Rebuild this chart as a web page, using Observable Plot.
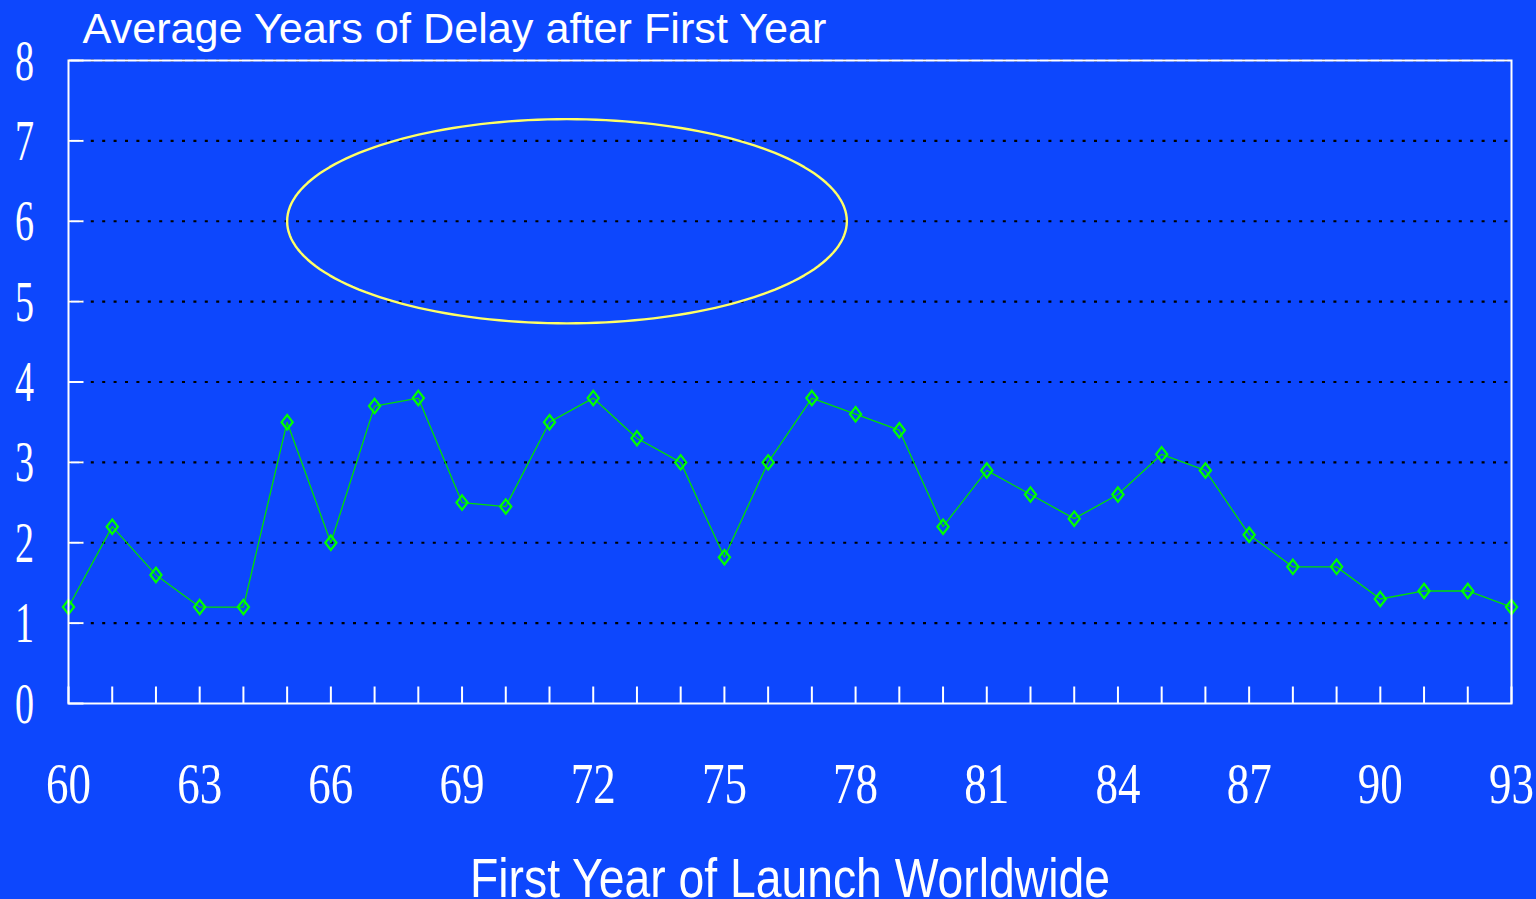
<!DOCTYPE html>
<html>
<head>
<meta charset="utf-8">
<script src="https://cdn.jsdelivr.net/npm/d3@7"></script>
<script src="https://cdn.jsdelivr.net/npm/@observablehq/plot@0.6"></script>
<style>
  html, body { margin: 0; padding: 0; background: #0d47fd; overflow: hidden; }
</style>
</head>
<body>
<div id="chart"></div>
<script>
// ---- data ----
const years = d3.range(60, 94);
const delay = [1.2, 2.2, 1.6, 1.2, 1.2, 3.5, 2.0, 3.7, 3.8, 2.5,
               2.45, 3.5, 3.8, 3.3, 3.0, 1.82, 3.0, 3.8, 3.6, 3.4,
               2.2, 2.9, 2.6, 2.3, 2.6, 3.1, 2.9, 2.1, 1.7, 1.7,
               1.3, 1.4, 1.4, 1.2];
const xTickLabels = [60, 63, 66, 69, 72, 75, 78, 81, 84, 87, 90, 93];
const yTickLabels = [0, 1, 2, 3, 4, 5, 6, 7, 8];
const gridValues = [1, 2, 3, 4, 5, 6, 7, 8];
const titleText = "Average Years of Delay after First Year";
const xLabelText = "First Year of Launch Worldwide";
// highlight ellipse (data units)
const ellipseCenter = [71.4, 6.0];
const ellipseRadii = [6.4, 1.27];

const points = years.map((y, i) => ({year: y, value: delay[i]}));
const ellipsePts = d3.range(0, 361, 2).map(a => {
  const t = a * Math.PI / 180;
  return {x: ellipseCenter[0] + ellipseRadii[0] * Math.cos(t),
          y: ellipseCenter[1] + ellipseRadii[1] * Math.sin(t)};
});

const xTickSymbol = {draw(ctx) { ctx.moveTo(0, 0); ctx.lineTo(0, -17); }};
const yTickSymbol = {draw(ctx) { ctx.moveTo(0, 0); ctx.lineTo(15, 0); }};
const tallDiamond = {draw(ctx) {
  ctx.moveTo(0, -7.2); ctx.lineTo(5.6, 0); ctx.lineTo(0, 7.2); ctx.lineTo(-5.6, 0); ctx.closePath();
}};

const serif = "'Liberation Serif', 'Times New Roman', serif";
const sans = "'Liberation Sans', Arial, sans-serif";

const chart = Plot.plot({
  width: 1536,
  height: 899,
  marginLeft: 68,
  marginRight: 25,
  marginTop: 60,
  marginBottom: 196,
  style: {background: "#0d47fd", color: "white", overflow: "visible"},
  x: {domain: [60, 93], axis: null},
  y: {domain: [0, 8], axis: null},
  marks: [
    Plot.ruleY(gridValues, {stroke: "black", strokeWidth: 2.2, strokeDasharray: "3,8.4"}),
    Plot.line(ellipsePts, {x: "x", y: "y", stroke: "#ffff66", strokeWidth: 2.4}),
    Plot.line(points, {x: "year", y: "value", stroke: "#00e000", strokeWidth: 1.3}),
    Plot.dot(points, {x: "year", y: "value", symbol: tallDiamond, r: 3, stroke: "#00ff00", strokeWidth: 2.2, fill: "none"}),
    Plot.dot(years, {x: d => d, y: 0, symbol: xTickSymbol, r: 3, stroke: "white", strokeWidth: 2, fill: "none"}),
    Plot.dot(yTickLabels, {x: 60, y: d => d, symbol: yTickSymbol, r: 3, stroke: "white", strokeWidth: 2, fill: "none"}),
    Plot.frame({stroke: "white", strokeWidth: 2}),
    Plot.text(xTickLabels, {x: d => d, y: 0, text: d => String(d), dy: 99, lineAnchor: "bottom",
      fontFamily: serif, fontSize: 58, fill: "white"}),
    Plot.text(yTickLabels, {x: 60, y: d => d, text: d => String(d), dx: -44, dy: 19, lineAnchor: "bottom",
      textAnchor: "middle", fontFamily: serif, fontSize: 57, fill: "white"}),
    Plot.text([titleText], {frameAnchor: "top-left", text: d => d, dx: 14, dy: -18, lineAnchor: "bottom",
      textAnchor: "start", fontFamily: sans, fontSize: 43, fill: "white"}),
    Plot.text([xLabelText], {frameAnchor: "bottom", text: d => d, dy: 193, lineAnchor: "bottom",
      fontFamily: sans, fontSize: 56, fill: "white"})
  ]
});

document.getElementById("chart").appendChild(chart);
const xLabelSet = new Set(xTickLabels.map(String));
const yLabelSet = new Set(yTickLabels.map(String));
d3.select(chart).selectAll("text").each(function() {
  const t = this.textContent;
  const sel = d3.select(this);
  if (t === titleText) sel.attr("textLength", 744).attr("lengthAdjust", "spacingAndGlyphs");
  else if (t === xLabelText) sel.attr("textLength", 640).attr("lengthAdjust", "spacingAndGlyphs");
  else if (xLabelSet.has(t) && t.length === 2) sel.attr("textLength", 45).attr("lengthAdjust", "spacingAndGlyphs");
  else if (yLabelSet.has(t)) sel.attr("textLength", 19).attr("lengthAdjust", "spacingAndGlyphs");
});
</script>
</body>
</html>
